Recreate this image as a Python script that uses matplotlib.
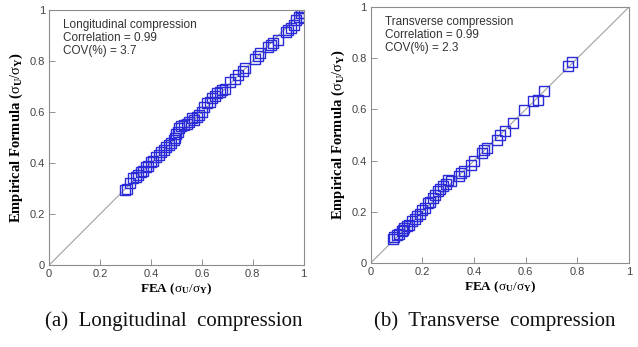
import numpy as np
import matplotlib
matplotlib.use('Agg')
import matplotlib.pyplot as plt

# longitudinal compression: FEA vs empirical formula
long_fea = [0.30, 0.305, 0.317, 0.33, 0.34, 0.35, 0.36, 0.37, 0.38, 0.39, 0.40, 0.41,
            0.42, 0.43, 0.44, 0.45, 0.46, 0.47, 0.48, 0.49, 0.495, 0.50, 0.505, 0.51,
            0.52, 0.53, 0.54, 0.55, 0.56, 0.57, 0.58, 0.59, 0.60, 0.61, 0.62, 0.63,
            0.64, 0.65, 0.66, 0.67, 0.68, 0.69, 0.71, 0.73, 0.74, 0.76, 0.77, 0.81,
            0.82, 0.83, 0.86, 0.87, 0.88, 0.90, 0.93, 0.94, 0.95, 0.96, 0.97, 0.98,
            0.99, 0.99, 1.0, 1.0]
long_emp = [0.294, 0.30, 0.323, 0.34, 0.345, 0.353, 0.366, 0.37, 0.386, 0.39, 0.405, 0.41,
            0.425, 0.43, 0.444, 0.45, 0.464, 0.47, 0.477, 0.49, 0.50, 0.516, 0.52, 0.536,
            0.545, 0.549, 0.555, 0.562, 0.575, 0.57, 0.582, 0.59, 0.60, 0.62, 0.634, 0.64,
            0.654, 0.665, 0.673, 0.68, 0.686, 0.69, 0.719, 0.73, 0.745, 0.76, 0.771, 0.81,
            0.82, 0.83, 0.855, 0.863, 0.87, 0.882, 0.915, 0.92, 0.928, 0.94, 0.961, 0.974,
            1.01, 0.99, 0.987, 0.97]

# transverse compression
trans_fea = [0.088, 0.09, 0.10, 0.11, 0.12, 0.125, 0.13, 0.14, 0.15, 0.16, 0.17, 0.18,
             0.19, 0.20, 0.21, 0.22, 0.23, 0.24, 0.25, 0.26, 0.27, 0.28, 0.29, 0.30,
             0.31, 0.34, 0.35, 0.36, 0.39, 0.40, 0.43, 0.44, 0.45, 0.49, 0.50, 0.52,
             0.55, 0.595, 0.63, 0.647, 0.67, 0.763, 0.78]
trans_emp = [0.094, 0.10, 0.11, 0.115, 0.124, 0.13, 0.135, 0.143, 0.15, 0.163, 0.17, 0.182,
             0.19, 0.208, 0.215, 0.234, 0.24, 0.254, 0.265, 0.28, 0.29, 0.30, 0.31, 0.326,
             0.32, 0.339, 0.35, 0.36, 0.384, 0.40, 0.43, 0.44, 0.45, 0.48, 0.50, 0.514,
             0.547, 0.599, 0.632, 0.638, 0.673, 0.768, 0.784]

panels = [
    (long_fea, long_emp, ['Longitudinal compression', 'Correlation = 0.99', 'COV(%) = 3.7'],
     '(a)  Longitudinal  compression', [0.077, 0.236, 0.399, 0.735], 0.272),
    (trans_fea, trans_emp, ['Transverse compression', 'Correlation = 0.99', 'COV(%) = 2.3'],
     '(b)  Transverse  compression', [0.581, 0.242, 0.405, 0.738], 0.775),
]

plt.rcParams['mathtext.fontset'] = 'custom'
plt.rcParams['mathtext.rm'] = 'Liberation Serif'
plt.rcParams['mathtext.it'] = 'Liberation Serif'
plt.rcParams['mathtext.bf'] = 'Liberation Serif:bold'

fig = plt.figure(figsize=(6.38, 3.47), dpi=100)
ticks = [0, 0.2, 0.4, 0.6, 0.8, 1]
tick_labels = ['0', '0.2', '0.4', '0.6', '0.8', '1']

for fea, emp, notes, caption, rect, cx in panels:
    ax = fig.add_axes(rect)
    ax.plot([0, 1], [0, 1], color='#a0a0a0', lw=0.8, zorder=1)
    ax.plot(fea, emp, 's', ms=6.5, mfc='none', mec='#2a2ad8', mew=1.0, zorder=2)
    ax.set_xlim(0, 1)
    ax.set_ylim(0, 1)
    ax.set_xticks(ticks)
    ax.set_yticks(ticks)
    ax.set_xticklabels(tick_labels, family='Liberation Sans')
    ax.set_yticklabels(tick_labels, family='Liberation Sans')
    ax.tick_params(direction='in', length=4, width=0.6, labelsize=8,
                   colors='#808080', labelcolor='#444444', pad=3)
    for s in ax.spines.values():
        s.set_color('#8c8c8c')
        s.set_linewidth(0.8)
    ax.set_xlabel(r'FEA ($\sigma_{\mathregular{U}}/\sigma_{\mathregular{Y}}$)',
                  family='Liberation Serif', weight='bold', fontsize=9.5, labelpad=2)
    ax.set_ylabel(r'Empirical Formula ($\sigma_{\mathregular{U}}/\sigma_{\mathregular{Y}}$)',
                  family='Liberation Serif', weight='bold', fontsize=10.5, labelpad=3)
    ax.text(0.055, 0.965, '\n'.join(notes), transform=ax.transAxes, va='top', ha='left',
            family='Liberation Sans', fontsize=8.5, color='#333333', linespacing=1.1)
    fig.text(cx, 0.06, caption, ha='center', va='baseline',
             family='Liberation Serif', fontsize=15, color='#111111')

fig.savefig('out.png', dpi=100)
